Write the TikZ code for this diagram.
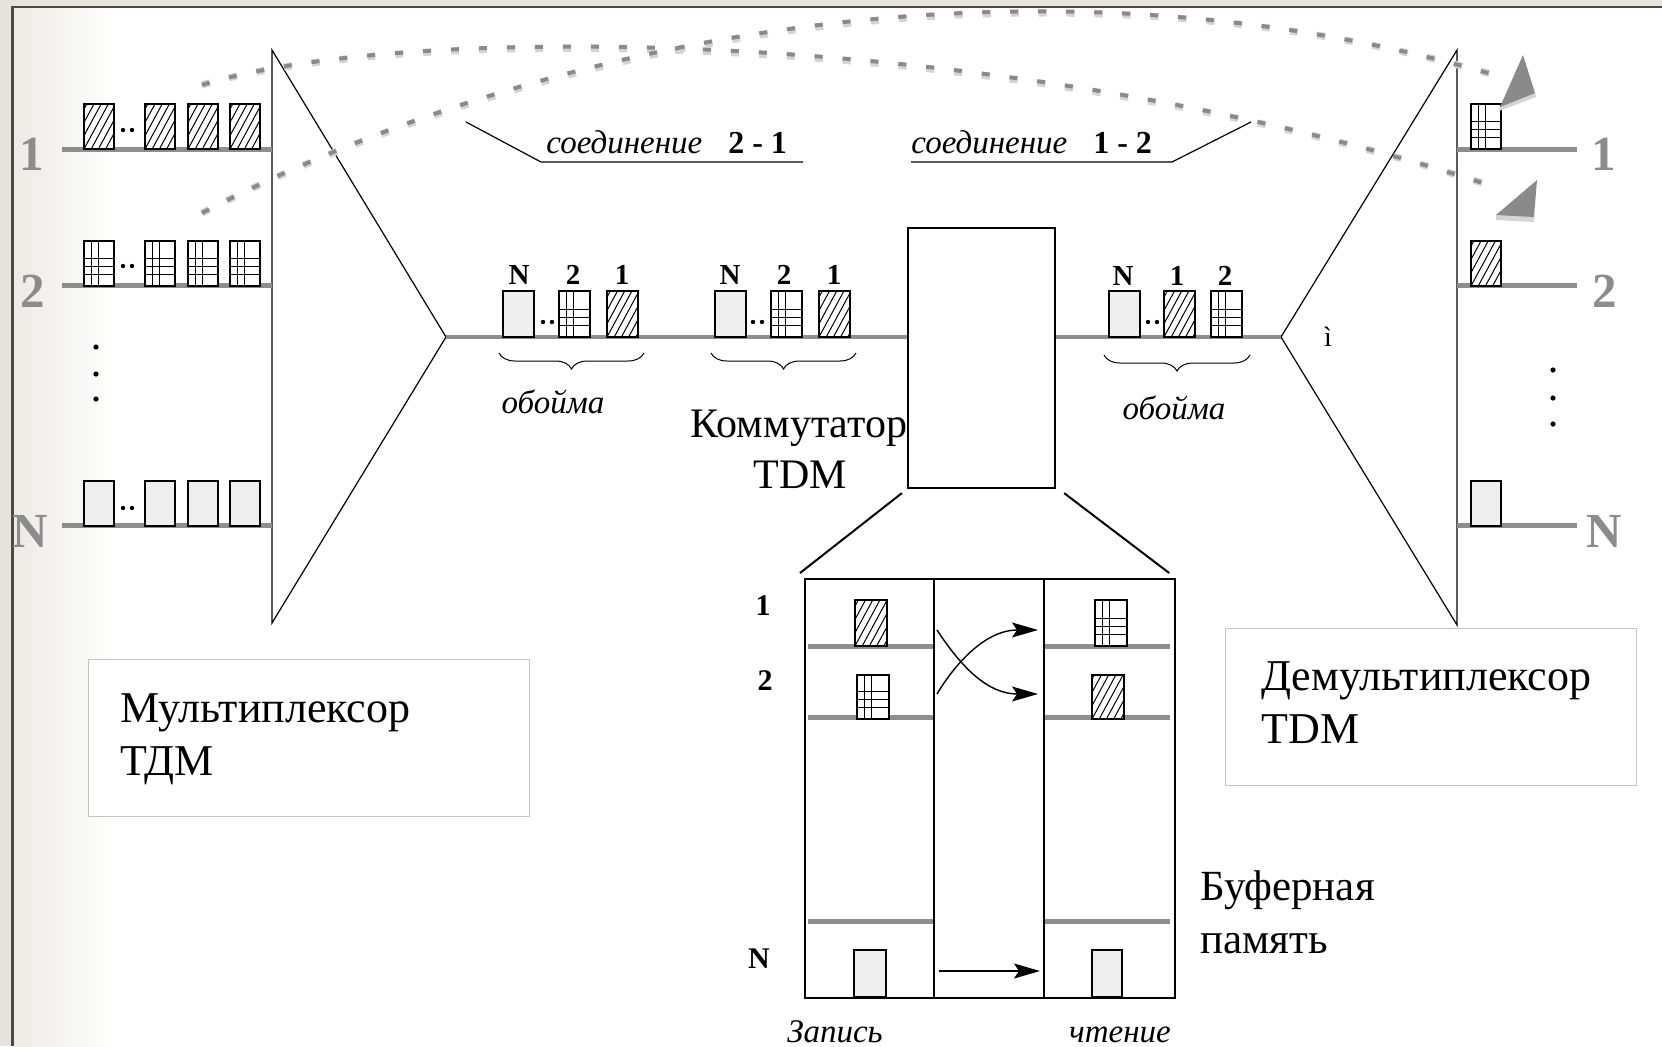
\documentclass[tikz,border=0pt]{standalone}
\usepackage{fontspec}
\setmainfont{Liberation Serif}
\usetikzlibrary{decorations.pathreplacing,arrows.meta,calc}
\definecolor{chgrey}{HTML}{8E8E8E}
\definecolor{lblgrey}{HTML}{8C8C8C}
\definecolor{boxfill}{HTML}{EFEFEF}
\definecolor{framebeige}{HTML}{E6E4DC}
\definecolor{framedark}{HTML}{52493E}
\definecolor{leftgrad}{HTML}{ECEBE6}
\definecolor{dotdark}{HTML}{8A8A8A}
\definecolor{dotlight}{HTML}{D4D4D4}
\definecolor{tbord}{HTML}{C4C4C4}
\begin{document}
\begin{tikzpicture}[x=0.5pt,y=-0.5pt,
  cell/.style={draw,line width=0.6pt,minimum width=15pt,minimum height=22.5pt,inner sep=0pt,outer sep=0pt,anchor=south west,fill=white},
  hcell/.style={cell,path picture={\foreach \k in {-4,...,4}{\draw[line width=0.5pt]([xshift=\k*3.6pt]path picture bounding box.south west)--++(13pt,24pt);}}},
  gcell/.style={cell,path picture={
     \draw[line width=0.5pt]([xshift=3.5pt]path picture bounding box.south west)--([xshift=3.5pt]path picture bounding box.north west);
     \draw[line width=0.5pt]([xshift=7pt]path picture bounding box.south west)--([xshift=7pt]path picture bounding box.north west);
     \foreach \h in {6pt,10pt,14pt}{\draw[line width=0.5pt]([yshift=\h]path picture bounding box.south west)--([yshift=\h]path picture bounding box.south east);}}},
  ecell/.style={cell,fill=boxfill},
  chline/.style={draw=chgrey,line width=2.5pt},
  thinline/.style={draw=black,line width=0.6pt},
  dotlo/.style={draw=dotlight,line width=3.6pt,dash pattern=on 4pt off 10pt},
  dothi/.style={draw=dotdark,line width=2pt,dash pattern=on 4pt off 10pt,yshift=1.2pt},
  biglbl/.style={font=\fontsize{24.5}{28}\selectfont\bfseries,text=lblgrey,anchor=base,inner sep=0pt},
  flbl/.style={font=\fontsize{14.5}{16}\selectfont\bfseries,anchor=base,inner sep=0pt},
  bigtxt/.style={font=\fontsize{22}{26}\selectfont,inner sep=0pt},
  itxt/.style={font=\fontsize{16.5}{18}\selectfont\itshape,inner sep=0pt},
  smalldot/.style={fill=black,circle,inner sep=0pt,minimum size=2.2pt},
  vdot/.style={fill=black,circle,inner sep=0pt,minimum size=2.6pt},
  bufarrow/.style={line width=0.7pt,-{Stealth[length=13pt,width=7.5pt,inset=2.5pt]}},
  brc/.style={decorate,decoration={brace,mirror,amplitude=8pt},line width=0.5pt}
]
\useasboundingbox (0,0) rectangle (1662,1046);
% background frame
\fill[white] (0,0) rectangle (1662,1046);
\fill[framebeige] (0,0) rectangle (1662,6);
\fill[framebeige] (0,0) rectangle (11.5,1046);
\shade[left color=leftgrad,right color=white] (13.5,8) rectangle (115,1046);
\draw[framedark,line width=1.2pt] (12.5,1046) -- (12.5,7) -- (1662,7);

% multiplexer and demultiplexer
\coordinate (mT) at (272,50); \coordinate (mA) at (446,337); \coordinate (mB) at (272,623);
\coordinate (dT) at (1457,50); \coordinate (dA) at (1281,337); \coordinate (dB) at (1457,625);
\draw[thinline] (mT) -- (mA) -- (mB) -- cycle;
\draw[thinline] (dT) -- (dA) -- (dB) -- cycle;

% input lines
\foreach \yy in {149,285,525}{\draw[chline] (62,\yy) -- (272,\yy);}
\foreach \yy in {149,285,525}{\draw[chline] (1457,\yy) -- (1577,\yy);}

% input cells
\node[hcell] (i1a) at (84,149) {};
\node[hcell] (i1b) at (145,149) {};
\node[hcell] (i1c) at (188,149) {};
\node[hcell] (i1d) at (230,149) {};
\node[gcell] (i2a) at (84,286) {};
\node[gcell] (i2b) at (145,286) {};
\node[gcell] (i2c) at (188,286) {};
\node[gcell] (i2d) at (230,286) {};
\node[ecell] (iNa) at (84,526) {};
\node[ecell] (iNb) at (145,526) {};
\node[ecell] (iNc) at (188,526) {};
\node[ecell] (iNd) at (230,526) {};
\foreach \yy in {130,266,508}{\node[smalldot] at (123,\yy) {}; \node[smalldot] at (132,\yy) {};}
\foreach \yy in {347,374,399}{\node[vdot] at (96,\yy) {};}

% output cells
\node[gcell] (o1) at (1471,149) {};
\node[hcell] (o2) at (1471,286) {};
\node[ecell] (oN) at (1471,526) {};
\foreach \yy in {370,398,424}{\node[vdot] at (1553,\yy) {};}

% channel labels
\node[biglbl] (l1) at (32,170) {1};
\node[biglbl] (l2) at (33,307) {2};
\node[biglbl] (lN) at (30,547) {N};
\node[biglbl] (r1) at (1604,170) {1};
\node[biglbl] (r2) at (1605,307) {2};
\node[biglbl] (rN) at (1604,547) {N};

% switch
\node[draw,line width=1.1pt,minimum width=73.5pt,minimum height=130pt,inner sep=0pt] (sw) at (981.5,358) {};
\draw[chline,line width=2.2pt] (mA) -- (mA -| sw.west);
\draw[chline,line width=2.2pt] (dA -| sw.east) -- (dA);

% frames
\node[ecell,minimum width=15.5pt,minimum height=23pt] (f1N) at (503,337) {};
\node[gcell,minimum width=15.5pt,minimum height=23pt] (f12) at (559,337) {};
\node[hcell,minimum width=15.5pt,minimum height=23pt] (f11) at (607,337) {};
\node[ecell,minimum width=15.5pt,minimum height=23pt] (f2N) at (715,337) {};
\node[gcell,minimum width=15.5pt,minimum height=23pt] (f22) at (771,337) {};
\node[hcell,minimum width=15.5pt,minimum height=23pt] (f21) at (819,337) {};
\node[ecell,minimum width=15.5pt,minimum height=23pt] (f3N) at (1109,337) {};
\node[hcell,minimum width=15.5pt,minimum height=23pt] (f31) at (1164,337) {};
\node[gcell,minimum width=15.5pt,minimum height=23pt] (f32) at (1211,337) {};
\foreach \xx in {543,552,753,762,1148,1157}{\node[smalldot] at (\xx,322) {};}
\node[flbl] at (519,284) {N};
\node[flbl] at (573,284) {2};
\node[flbl] at (622,284) {1};
\node[flbl] at (730,284) {N};
\node[flbl] at (784,284) {2};
\node[flbl] at (834,284) {1};
\node[flbl] at (1123,285) {N};
\node[flbl] at (1177,285) {1};
\node[flbl] at (1225,285) {2};
\draw[brc] (499,353) -- (644,353);
\draw[brc] (711,353) -- (856,353);
\draw[brc] (1104,355) -- (1250,355);
\node[itxt,anchor=base] (ob1) at (553,413) {обойма};
\node[itxt,anchor=base] (ob3) at (1174,419) {обойма};
\node[font=\fontsize{14}{16}\selectfont,anchor=base,inner sep=0pt] (ii) at (1328,346) {ì};

% switch caption
\node[font=\fontsize{21}{25}\selectfont,anchor=base,inner sep=0pt] (swl1) at (799,437) {Коммутатор};
\node[font=\fontsize{21}{25}\selectfont,anchor=base,inner sep=0pt] (swl2) at (800,488) {TDM};

% buffer memory
\node[draw,line width=1.1pt,minimum width=64.5pt,minimum height=209.5pt,inner sep=0pt,anchor=north west] (bufW) at (804,578) {};
\node[draw,line width=1.1pt,minimum width=55pt,minimum height=209.5pt,inner sep=0pt,anchor=north west] (bufM) at (933,578) {};
\node[draw,line width=1.1pt,minimum width=65.5pt,minimum height=209.5pt,inner sep=0pt,anchor=north west] (bufR) at (1043,578) {};
\draw[line width=1pt] ($(sw.south west)+(-5,4)$) -- ($(bufW.north west)+(-4,-5)$);
\draw[line width=1pt] ($(sw.south east)+(8,4)$) -- ($(bufR.north east)+(-7,-5)$);
\foreach \yy in {646,717,921}{\draw[chline] (808,\yy) -- (933,\yy); \draw[chline] (1045,\yy) -- (1170,\yy);}
\node[hcell,minimum width=16pt,minimum height=23pt] (bw1) at (855,646) {};
\node[gcell,minimum width=16pt,minimum height=22pt] (bw2) at (857,719) {};
\node[ecell,minimum width=16pt,minimum height=23.5pt] (bwN) at (854,997) {};
\node[gcell,minimum width=16pt,minimum height=23pt] (br1) at (1095,646) {};
\node[hcell,minimum width=16pt,minimum height=22pt] (br2) at (1092,719) {};
\node[ecell,minimum width=15pt,minimum height=23.5pt] (brN) at (1092,997) {};
\coordinate (aw1) at (937,630); \coordinate (aw2) at (937,694);
\coordinate (ar1) at (1038,630); \coordinate (ar2) at (1038,694);
\coordinate (awN) at (939,971); \coordinate (arN) at (1040,971);
\draw[bufarrow] (aw1) .. controls (962,668) and (988,694) .. (ar2);
\draw[bufarrow] (aw2) .. controls (955,664) and (985,630) .. (ar1);
\draw[bufarrow] (awN) -- (arN);
\node[flbl,font=\fontsize{15}{17}\selectfont\bfseries,anchor=center] at (763,606) {1};
\node[flbl,font=\fontsize{15}{17}\selectfont\bfseries,anchor=center] at (765,681) {2};
\node[flbl,font=\fontsize{15}{17}\selectfont\bfseries,anchor=center] at (759,959) {N};
\node[itxt,anchor=base] (zap) at (835,1042) {Запись};
\node[itxt,anchor=base] (cht) at (1120,1042) {чтение};
\node[font=\fontsize{21.5}{25}\selectfont,anchor=base west,inner sep=0pt] (bf1) at (1200,900) {Буферная};
\node[font=\fontsize{21.5}{25}\selectfont,anchor=base west,inner sep=0pt] (bf2) at (1200,953) {память};

% label boxes
\node[draw=tbord,line width=0.5pt,fill=white,minimum width=220.5pt,minimum height=78.5pt,inner sep=0pt,anchor=north west] (muxbox) at (88,659) {};
\node[bigtxt,anchor=base west] (mux1) at (120,722) {Мультиплексор};
\node[bigtxt,anchor=base west] (mux2) at (120,775) {ТДМ};
\node[draw=tbord,line width=0.5pt,fill=white,minimum width=205.5pt,minimum height=78.5pt,inner sep=0pt,anchor=north west] (dmxbox) at (1225,628) {};
\node[bigtxt,anchor=base west] (dmx1) at (1261,690) {Демультиплексор};
\node[bigtxt,anchor=base west] (dmx2) at (1261,743) {TDM};

% connection curves
\coordinate (c1s) at (202,85); \coordinate (c1e) at (1498,188);
\coordinate (c2s) at (202,213); \coordinate (c2e) at (1505,78);
\draw[dotlo] (c1s) .. controls (400,25) and (1000,25) .. (c1e);
\draw[dothi] (c1s) .. controls (400,25) and (1000,25) .. (c1e);
\draw[dotlo] (c2s) .. controls (500,60) and (1000,-70) .. (c2e);
\draw[dothi] (c2s) .. controls (500,60) and (1000,-70) .. (c2e);
\fill[dotlight] (1499,111) -- (1536,97) -- (1535,92) -- (1500,106) -- cycle;
\fill[dotdark] (1523,55) -- (1500,107) -- (1535,93) -- cycle;
\fill[dotlight] (1496,214) -- (1534,216) -- (1534,222) -- (1496,220) -- cycle;
\fill[dotdark] (1537,180) -- (1496,215) -- (1534,217) -- cycle;

% connection labels
\coordinate (ld21) at (466,122); \coordinate (ul21a) at (541,162); \coordinate (ul21b) at (803,162);
\draw[thinline] (ld21) -- (ul21a) -- (ul21b);
\node[anchor=base west,inner sep=0pt] (cn21) at (546,153) {\fontsize{16.5}{18}\selectfont\itshape соединение\hspace{13pt}\upshape\bfseries\fontsize{16}{18}\selectfont 2 - 1};
\coordinate (ld12) at (1251,122); \coordinate (ul12a) at (1172,162); \coordinate (ul12b) at (911,162);
\draw[thinline] (ld12) -- (ul12a) -- (ul12b);
\node[anchor=base west,inner sep=0pt] (cn12) at (911,153) {\fontsize{16.5}{18}\selectfont\itshape соединение\hspace{13pt}\upshape\bfseries\fontsize{16}{18}\selectfont 1 - 2};
\end{tikzpicture}
\end{document}
